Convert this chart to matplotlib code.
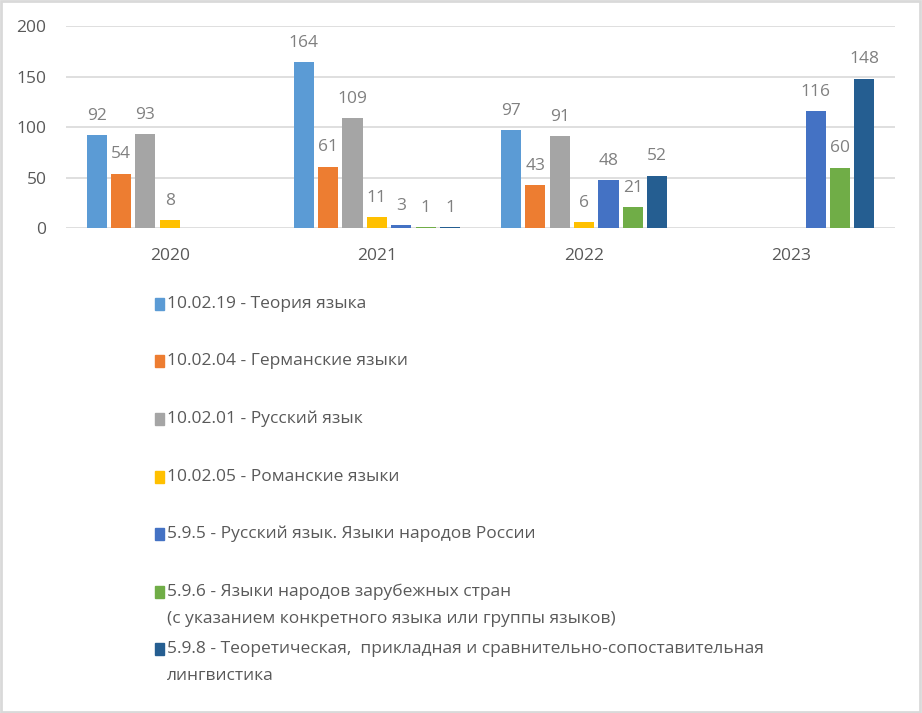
import numpy as np
import matplotlib.pyplot as plt
from matplotlib.patches import Rectangle

plt.rcParams['font.family'] = ['Open Sans', 'DejaVu Sans']

years = ['2020', '2021', '2022', '2023']
series_names = [
    '10.02.19 - Теория языка',
    '10.02.04 - Германские языки',
    '10.02.01 - Русский язык',
    '10.02.05 - Романские языки',
    '5.9.5 - Русский язык. Языки народов России',
    '5.9.6 - Языки народов зарубежных стран\n(с указанием конкретного языка или группы языков)',
    '5.9.8 - Теоретическая,  прикладная и сравнительно-сопоставительная\nлингвистика',
]
teoria = [92, 164, 97, None]
german = [54, 61, 43, None]
russian = [93, 109, 91, None]
roman = [8, 11, 6, None]
rus_narody = [None, 3, 48, 116]
zarub = [None, 1, 21, 60]
teor_prikl = [None, 1, 52, 148]
all_series = [teoria, german, russian, roman, rus_narody, zarub, teor_prikl]
colors = ['#5B9BD5', '#ED7D31', '#A5A5A5', '#FFC000', '#4472C4', '#70AD47', '#255E91']

fig = plt.figure(figsize=(9.22, 7.13), dpi=100)
ax = fig.add_axes([0.0716, 0.680, 0.8991, 0.2835])

step = 0.1175
width = 0.097
x = np.arange(len(years))
for j, (vals, col) in enumerate(zip(all_series, colors)):
    for i, v in enumerate(vals):
        if v is None:
            continue
        xp = x[i] + (j - 3) * step
        ax.bar(xp, v, width=width, color=col, zorder=3)
        ax.annotate(str(v), (xp, v), xytext=(0, 8), textcoords='offset points',
                    ha='center', va='bottom', fontsize=12.5, color='#808080')

ax.set_xlim(-0.5, len(years) - 0.5)
ax.set_ylim(0, 200)
ax.set_yticks([0, 50, 100, 150, 200])
ax.set_xticks(x)
ax.set_xticklabels(years)
ax.grid(axis='y', color='#d9d9d9', linewidth=1.2, zorder=0)
for s in ax.spines.values():
    s.set_visible(False)
ax.tick_params(axis='both', length=0, labelsize=12.5, labelcolor='#595959')
ax.tick_params(axis='y', pad=14)
ax.tick_params(axis='x', pad=14)

# legend drawn by hand: fixed slot height like the original
y0 = 0.574
dy = 0.0808
for j, (name, col) in enumerate(zip(series_names, colors)):
    yy = y0 - j * dy
    fig.patches.append(Rectangle((0.168, yy - 0.0085), 0.0098, 0.017,
                                 transform=fig.transFigure, color=col))
    lines = name.split('\n')
    for k, ln in enumerate(lines):
        fig.text(0.181, yy - k * 0.038, ln, ha='left', va='center',
                 fontsize=12.5, color='#595959')

fig.patches.append(Rectangle((0.001, 0.001), 0.997, 0.997, transform=fig.transFigure,
                             fill=False, edgecolor='#d9d9d9', linewidth=2))

fig.savefig('out.png', dpi=100)
